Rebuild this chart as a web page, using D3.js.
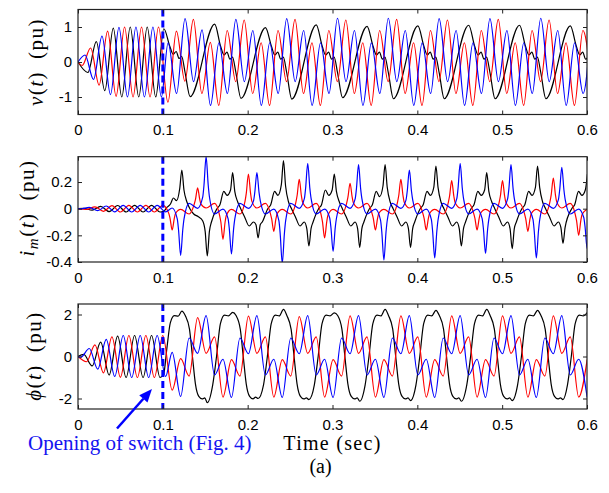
<!DOCTYPE html>
<html><head><meta charset="utf-8">
<script src="https://cdn.jsdelivr.net/npm/d3@7"></script>
<style>body{margin:0;background:#fff}</style>
</head><body>
<svg id="chart" width="609" height="493"></svg>
<script>
// ---------- axis ticks ----------
const timeTicks = [0, 0.1, 0.2, 0.3, 0.4, 0.5, 0.6];
const vTicks = [-1, 0, 1];
const iTicks = [-0.4, -0.2, 0, 0.2];
const phiTicks = [-2, 0, 2];
const switchTime = 0.1;

// ---------- v(t): extrema [time s, value pu] ----------
const vRed = [
[0,0],[0.0049,-0.1],[0.0149,0.4],[0.0249,-0.66],[0.0349,0.88],[0.0449,-0.98],[0.0549,1],[0.0649,-1],[0.0749,1],[0.0849,-1],[0.0949,1],
[0.106,-1.15],[0.116,0.88],[0.126,-0.55],[0.136,1.22],[0.146,-0.9],[0.156,0.56],
[0.1659,-1.24],[0.1759,0.9],[0.1859,-0.56],[0.1959,1.2],[0.2059,-0.9],[0.2159,0.55],
[0.2258,-1.24],[0.2358,0.9],[0.2458,-0.56],[0.2558,1.22],[0.2658,-0.9],[0.2758,0.55],
[0.2857,-1.24],[0.2957,0.9],[0.3057,-0.56],[0.3157,1.2],[0.3257,-0.9],[0.3357,0.55],
[0.3456,-1.24],[0.3556,0.9],[0.3656,-0.56],[0.3756,1.22],[0.3856,-0.9],[0.3956,0.55],
[0.4055,-1.24],[0.4155,0.9],[0.4255,-0.56],[0.4355,1.2],[0.4455,-0.9],[0.4555,0.55],
[0.4654,-1.24],[0.4754,0.9],[0.4854,-0.56],[0.4954,1.22],[0.5054,-0.9],[0.5154,0.55],
[0.5253,-1.24],[0.5353,0.9],[0.5453,-0.56],[0.5553,1.2],[0.5653,-0.9],[0.5753,0.55],
[0.5852,-1.24],[0.5952,0.9],[0.6052,-0.56]
];
const vBlue = [
[0,0],[0.0083,0.2],[0.0183,-0.5],[0.0283,0.74],[0.0383,-0.93],[0.0483,0.99],[0.0583,-1],[0.0683,1],[0.0783,-1],[0.0883,1],[0.0983,-1],
[0.1062,0.55],[0.1162,-0.9],[0.1262,1.24],[0.1362,-0.56],[0.1462,0.92],[0.1562,-1.24],
[0.1661,0.55],[0.1761,-0.9],[0.1861,1.22],[0.1961,-0.56],[0.2061,0.9],[0.2161,-1.24],
[0.226,0.55],[0.236,-0.9],[0.246,1.24],[0.256,-0.56],[0.266,0.9],[0.276,-1.24],
[0.2859,0.55],[0.2959,-0.9],[0.3059,1.25],[0.3159,-0.56],[0.3259,0.9],[0.3359,-1.24],
[0.3458,0.55],[0.3558,-0.9],[0.3658,1.25],[0.3758,-0.56],[0.3858,0.9],[0.3958,-1.24],
[0.4057,0.55],[0.4157,-0.9],[0.4257,1.24],[0.4357,-0.56],[0.4457,0.9],[0.4557,-1.24],
[0.4656,0.55],[0.4756,-0.9],[0.4856,1.24],[0.4956,-0.56],[0.5056,0.9],[0.5156,-1.24],
[0.5255,0.55],[0.5355,-0.9],[0.5455,1.25],[0.5555,-0.56],[0.5655,0.9],[0.5755,-1.24],
[0.5854,0.55],[0.5954,-0.9],[0.6054,1.24]
];
const vBlack = [
[0,0],[0.0116,-0.3],[0.0216,0.58],[0.0316,-0.82],[0.0416,0.97],[0.0516,-1],[0.0616,1],[0.0716,-1],[0.0816,1],[0.0916,-1],
[0.1012,0.95],[0.1082,0.45],[0.1122,0.22],[0.1157,0.3],[0.1192,0.1],[0.1222,0.16],[0.1262,-0.3],[0.1322,-0.99],
[0.1611,1.08],[0.1681,0.45],[0.1721,0.2],[0.1756,0.28],[0.1791,0.08],[0.1821,0.14],[0.1861,-0.3],[0.1921,-1.04],
[0.221,0.98],[0.228,0.45],[0.232,0.2],[0.2355,0.28],[0.239,0.08],[0.242,0.14],[0.246,-0.3],[0.252,-1.06],
[0.2809,1.06],[0.2879,0.45],[0.2919,0.2],[0.2954,0.28],[0.2989,0.08],[0.3019,0.14],[0.3059,-0.3],[0.3119,-1.02],
[0.3408,1.02],[0.3478,0.45],[0.3518,0.2],[0.3553,0.28],[0.3588,0.08],[0.3618,0.14],[0.3658,-0.3],[0.3718,-1.05],
[0.4007,1.03],[0.4077,0.45],[0.4117,0.2],[0.4152,0.28],[0.4187,0.08],[0.4217,0.14],[0.4257,-0.3],[0.4317,-1.05],
[0.4606,1.05],[0.4676,0.45],[0.4716,0.2],[0.4751,0.28],[0.4786,0.08],[0.4816,0.14],[0.4856,-0.3],[0.4916,-1.05],
[0.5205,1.05],[0.5275,0.45],[0.5315,0.2],[0.535,0.28],[0.5385,0.08],[0.5415,0.14],[0.5455,-0.3],[0.5515,-1.05],
[0.5804,1.03],[0.5874,0.45],[0.5914,0.2],[0.5949,0.28],[0.5984,0.08],[0.6014,0.14]
];

// ---------- i_m(t): extrema and spike flanks [time s, value pu] ----------
const iRed = [
[0,0],[0.01,-0.006],[0.02,0.014],[0.03,-0.02],[0.04,0.023],[0.05,-0.025],[0.06,0.025],[0.07,-0.025],[0.08,0.025],[0.09,-0.025],[0.1,0.025],
[0.107,-0.035],[0.1085,-0.072],[0.111,-0.16],[0.1135,-0.072],[0.115,-0.035],[0.121,-0.005],[0.131,-0.04],[0.137,0.034],[0.1385,0.07],[0.141,0.156],[0.1435,0.07],[0.145,0.034],[0.151,0.005],[0.161,0.04],
[0.1669,-0.05],[0.1684,-0.1],[0.1709,-0.23],[0.1734,-0.1],[0.1749,-0.05],[0.1809,-0.005],[0.1909,-0.04],[0.1969,0.057],[0.1984,0.117],[0.2009,0.26],[0.2034,0.117],[0.2049,0.057],[0.2109,0.005],[0.2209,0.04],
[0.2268,-0.037],[0.2283,-0.077],[0.2308,-0.17],[0.2333,-0.077],[0.2348,-0.037],[0.2408,-0.005],[0.2508,-0.04],[0.2568,0.048],[0.2583,0.099],[0.2608,0.22],[0.2633,0.099],[0.2648,0.048],[0.2708,0.005],[0.2808,0.04],
[0.2867,-0.048],[0.2882,-0.099],[0.2907,-0.22],[0.2932,-0.099],[0.2947,-0.048],[0.3007,-0.005],[0.3107,-0.04],[0.3167,0.042],[0.3182,0.086],[0.3207,0.19],[0.3232,0.086],[0.3247,0.042],[0.3307,0.005],[0.3407,0.04],
[0.3466,-0.035],[0.3481,-0.072],[0.3506,-0.16],[0.3531,-0.072],[0.3546,-0.035],[0.3606,-0.005],[0.3706,-0.04],[0.3766,0.048],[0.3781,0.099],[0.3806,0.22],[0.3831,0.099],[0.3846,0.048],[0.3906,0.005],[0.4006,0.04],
[0.4065,-0.035],[0.408,-0.072],[0.4105,-0.16],[0.413,-0.072],[0.4145,-0.035],[0.4205,-0.005],[0.4305,-0.04],[0.4365,0.046],[0.438,0.095],[0.4405,0.21],[0.443,0.095],[0.4445,0.046],[0.4505,0.005],[0.4605,0.04],
[0.4664,-0.035],[0.4679,-0.072],[0.4704,-0.16],[0.4729,-0.072],[0.4744,-0.035],[0.4804,-0.005],[0.4904,-0.04],[0.4964,0.046],[0.4979,0.095],[0.5004,0.21],[0.5029,0.095],[0.5044,0.046],[0.5104,0.005],[0.5204,0.04],
[0.5263,-0.037],[0.5278,-0.077],[0.5303,-0.17],[0.5328,-0.077],[0.5343,-0.037],[0.5403,-0.005],[0.5503,-0.04],[0.5563,0.051],[0.5578,0.104],[0.5603,0.23],[0.5628,0.104],[0.5643,0.051],[0.5703,0.005],[0.5803,0.04],
[0.5862,-0.044],[0.5877,-0.09],[0.5902,-0.2],[0.5927,-0.09],[0.5942,-0.044],[0.6002,-0.005]
];
const iBlue = [
[0,0],[0.0033,-0.001],[0.0133,0.01],[0.0233,-0.015],[0.0333,0.02],[0.0433,-0.024],[0.0533,0.025],[0.0633,-0.025],[0.0733,0.025],[0.0833,-0.025],[0.0933,0.025],[0.1033,-0.024],
[0.111,0.005],[0.117,-0.077],[0.1185,-0.158],[0.121,-0.35],[0.1235,-0.158],[0.125,-0.077],[0.131,0.04],[0.141,0.003],[0.147,0.086],[0.1485,0.176],[0.151,0.39],[0.1535,0.176],[0.155,0.086],[0.161,-0.04],
[0.1709,-0.003],[0.1769,-0.075],[0.1784,-0.153],[0.1809,-0.34],[0.1834,-0.153],[0.1849,-0.075],[0.1909,0.04],[0.2009,0.003],[0.2069,0.059],[0.2084,0.122],[0.2109,0.27],[0.2134,0.122],[0.2149,0.059],[0.2209,-0.04],
[0.2308,-0.003],[0.2368,-0.09],[0.2383,-0.185],[0.2408,-0.41],[0.2433,-0.185],[0.2448,-0.09],[0.2508,0.04],[0.2608,0.003],[0.2668,0.075],[0.2683,0.153],[0.2708,0.34],[0.2733,0.153],[0.2748,0.075],[0.2808,-0.04],
[0.2907,-0.003],[0.2967,-0.07],[0.2982,-0.144],[0.3007,-0.32],[0.3032,-0.144],[0.3047,-0.07],[0.3107,0.04],[0.3207,0.003],[0.3267,0.073],[0.3282,0.149],[0.3307,0.33],[0.3332,0.149],[0.3347,0.073],[0.3407,-0.04],
[0.3506,-0.003],[0.3566,-0.085],[0.3581,-0.173],[0.3606,-0.385],[0.3631,-0.173],[0.3646,-0.085],[0.3706,0.04],[0.3806,0.003],[0.3866,0.064],[0.3881,0.131],[0.3906,0.29],[0.3931,0.131],[0.3946,0.064],[0.4006,-0.04],
[0.4105,-0.003],[0.4165,-0.081],[0.418,-0.167],[0.4205,-0.37],[0.423,-0.167],[0.4245,-0.081],[0.4305,0.04],[0.4405,0.003],[0.4465,0.075],[0.448,0.153],[0.4505,0.34],[0.453,0.153],[0.4545,0.075],[0.4605,-0.04],
[0.4704,-0.003],[0.4764,-0.074],[0.4779,-0.151],[0.4804,-0.335],[0.4829,-0.151],[0.4844,-0.074],[0.4904,0.04],[0.5004,0.003],[0.5064,0.073],[0.5079,0.149],[0.5104,0.33],[0.5129,0.149],[0.5144,0.073],[0.5204,-0.04],
[0.5303,-0.003],[0.5363,-0.081],[0.5378,-0.167],[0.5403,-0.37],[0.5428,-0.167],[0.5443,-0.081],[0.5503,0.04],[0.5603,0.003],[0.5663,0.068],[0.5678,0.14],[0.5703,0.31],[0.5728,0.14],[0.5743,0.068],[0.5803,-0.04],
[0.5902,-0.003],[0.5962,-0.066],[0.5977,-0.135],[0.6002,-0.3],[0.6027,-0.135]
];
const iBlack = [
[0,0],[0.0067,0.0025],[0.0167,-0.011],[0.0267,0.017],[0.0367,-0.022],[0.0467,0.024],[0.0567,-0.025],[0.0667,0.025],[0.0767,-0.025],[0.0867,0.025],[0.0967,-0.025],
[0.1009,-0.02],[0.1048,0.01],[0.109,0.035],[0.1125,0.08],[0.1162,0.06],[0.1199,0.15],[0.1224,0.29],[0.1249,0.14],[0.1284,0.05],[0.1319,0],[0.1364,-0.04],[0.1419,-0.06],[0.1469,-0.09],[0.1499,-0.17],[0.1524,-0.355],[0.1549,-0.17],
[0.1573,-0.1],[0.1638,0],[0.1673,0.03],[0.1718,0.13],[0.1758,0.1],[0.1798,0.14],[0.1823,0.27],[0.1848,0.13],[0.1883,0.05],[0.1918,0],[0.1963,-0.06],[0.2018,-0.13],[0.2068,-0.1],[0.2098,-0.12],[0.2123,-0.22],[0.2148,-0.12],
[0.2172,-0.1],[0.2237,0],[0.2272,0.03],[0.2317,0.13],[0.2357,0.1],[0.2397,0.18],[0.2422,0.36],[0.2447,0.17],[0.2482,0.05],[0.2517,0],[0.2562,-0.06],[0.2617,-0.13],[0.2667,-0.1],[0.2697,-0.15],[0.2722,-0.28],[0.2747,-0.15],
[0.2771,-0.1],[0.2836,0],[0.2871,0.03],[0.2916,0.14],[0.2956,0.1],[0.2996,0.14],[0.3021,0.26],[0.3046,0.13],[0.3081,0.05],[0.3116,0],[0.3161,-0.06],[0.3216,-0.13],[0.3266,-0.1],[0.3296,-0.15],[0.3321,-0.29],[0.3346,-0.15],
[0.337,-0.1],[0.3435,0],[0.347,0.03],[0.3515,0.13],[0.3555,0.09],[0.3595,0.17],[0.362,0.33],[0.3645,0.16],[0.368,0.05],[0.3715,0],[0.376,-0.06],[0.3815,-0.13],[0.3865,-0.1],[0.3895,-0.15],[0.392,-0.29],[0.3945,-0.15],
[0.3969,-0.1],[0.4034,0],[0.4069,0.03],[0.4114,0.13],[0.4154,0.1],[0.4194,0.16],[0.4219,0.32],[0.4244,0.16],[0.4279,0.05],[0.4314,0],[0.4359,-0.06],[0.4414,-0.13],[0.4464,-0.1],[0.4494,-0.15],[0.4519,-0.28],[0.4544,-0.15],
[0.4568,-0.1],[0.4633,0],[0.4668,0.03],[0.4713,0.13],[0.4753,0.1],[0.4793,0.14],[0.4818,0.27],[0.4843,0.13],[0.4878,0.05],[0.4913,0],[0.4958,-0.06],[0.5013,-0.13],[0.5063,-0.1],[0.5093,-0.15],[0.5118,-0.3],[0.5143,-0.15],
[0.5167,-0.1],[0.5232,0],[0.5267,0.03],[0.5312,0.13],[0.5352,0.1],[0.5392,0.16],[0.5417,0.32],[0.5442,0.16],[0.5477,0.05],[0.5512,0],[0.5557,-0.06],[0.5612,-0.13],[0.5662,-0.1],[0.5692,-0.14],[0.5717,-0.26],[0.5742,-0.14],
[0.582,0],[0.5855,0.03],[0.59,0.13],[0.594,0.1],[0.598,0.14],[0.6005,0.26]
];

// ---------- phi(t): flux linkage extrema [time s, value pu] ----------
const phiRed = [
[0,0],[0.01,-0.25],[0.02,0.55],[0.03,-0.78],[0.04,0.93],[0.05,-0.99],[0.06,1],[0.07,-1],[0.08,1],[0.09,-1],[0.1,1],
[0.111,-1.6],[0.121,-0.1],[0.131,-0.93],[0.141,1.85],[0.151,0.15],[0.161,0.93],
[0.1709,-1.93],[0.1809,-0.15],[0.1909,-0.93],[0.2009,1.92],[0.2109,0.15],[0.2209,0.93],
[0.2308,-1.93],[0.2408,-0.15],[0.2508,-0.93],[0.2608,1.9],[0.2708,0.15],[0.2808,0.93],
[0.2907,-1.93],[0.3007,-0.15],[0.3107,-0.93],[0.3207,1.93],[0.3307,0.15],[0.3407,0.93],
[0.3506,-1.93],[0.3606,-0.15],[0.3706,-0.93],[0.3806,1.93],[0.3906,0.15],[0.4006,0.93],
[0.4105,-1.93],[0.4205,-0.15],[0.4305,-0.93],[0.4405,1.93],[0.4505,0.15],[0.4605,0.93],
[0.4704,-1.93],[0.4804,-0.15],[0.4904,-0.93],[0.5004,1.93],[0.5104,0.15],[0.5204,0.93],
[0.5303,-1.93],[0.5403,-0.15],[0.5503,-0.93],[0.5603,1.93],[0.5703,0.15],[0.5803,0.93],
[0.5902,-1.93],[0.6002,-0.15]
];
const phiBlue = [
[0,0],[0.0033,-0.03],[0.0133,0.38],[0.0233,-0.6],[0.0333,0.82],[0.0433,-0.95],[0.0533,1],[0.0633,-1],[0.0733,1],[0.0833,-1],[0.0933,1],[0.1033,-0.95],
[0.111,0.2],[0.121,-1.9],[0.131,0.88],[0.141,0.15],[0.151,1.95],[0.161,-0.88],
[0.1709,-0.13],[0.1809,-1.95],[0.1909,0.88],[0.2009,0.13],[0.2109,1.95],[0.2209,-0.88],
[0.2308,-0.13],[0.2408,-1.95],[0.2508,0.88],[0.2608,0.13],[0.2708,1.95],[0.2808,-0.88],
[0.2907,-0.13],[0.3007,-1.95],[0.3107,0.88],[0.3207,0.13],[0.3307,1.95],[0.3407,-0.88],
[0.3506,-0.13],[0.3606,-1.95],[0.3706,0.88],[0.3806,0.13],[0.3906,1.95],[0.4006,-0.88],
[0.4105,-0.13],[0.4205,-1.95],[0.4305,0.88],[0.4405,0.13],[0.4505,1.95],[0.4605,-0.88],
[0.4704,-0.13],[0.4804,-1.95],[0.4904,0.88],[0.5004,0.13],[0.5104,1.95],[0.5204,-0.88],
[0.5303,-0.13],[0.5403,-1.95],[0.5503,0.88],[0.5603,0.13],[0.5703,1.95],[0.5803,-0.88],
[0.5902,-0.13],[0.6002,-1.95]
];
const phiBlack = [
[0,0],[0.0067,0.1],[0.0167,-0.45],[0.0267,0.68],[0.0367,-0.88],[0.0467,0.97],[0.0567,-1],[0.0667,1],[0.0767,-1],[0.0867,1],[0.0967,-1],
[0.1009,-0.85],[0.1048,0.4],[0.1088,1.6],[0.1135,1.95],[0.118,1.92],[0.1224,2.16],[0.1264,1.95],[0.1314,1.3],[0.1349,0],[0.1384,-1.3],[0.1424,-1.9],[0.1464,-2.02],[0.1494,-1.97],[0.1524,-2.2],
[0.1588,-1.35],[0.1633,0],[0.1678,1.55],[0.1728,1.97],[0.1773,1.93],[0.1823,2.1],[0.1863,1.95],[0.1913,1.3],[0.1948,0],[0.1983,-1.3],[0.2023,-1.9],[0.2063,-2.02],[0.2093,-1.93],[0.2123,-2.0],
[0.2187,-1.35],[0.2232,0],[0.2277,1.55],[0.2327,1.97],[0.2372,1.93],[0.2422,2.24],[0.2462,1.95],[0.2512,1.3],[0.2547,0],[0.2582,-1.3],[0.2622,-1.9],[0.2662,-2.02],[0.2692,-1.97],[0.2722,-2.05],
[0.2786,-1.35],[0.2831,0],[0.2876,1.55],[0.2926,1.97],[0.2971,1.93],[0.3021,2.08],[0.3061,1.95],[0.3111,1.3],[0.3146,0],[0.3181,-1.3],[0.3221,-1.9],[0.3261,-2.02],[0.3291,-1.97],[0.3321,-2.13],
[0.3385,-1.35],[0.343,0],[0.3475,1.55],[0.3525,1.97],[0.357,1.93],[0.362,2.24],[0.366,1.95],[0.371,1.3],[0.3745,0],[0.378,-1.3],[0.382,-1.9],[0.386,-2.02],[0.389,-1.97],[0.392,-2.1],
[0.3984,-1.35],[0.4029,0],[0.4074,1.55],[0.4124,1.97],[0.4169,1.93],[0.4219,2.2],[0.4259,1.95],[0.4309,1.3],[0.4344,0],[0.4379,-1.3],[0.4419,-1.9],[0.4459,-2.02],[0.4489,-1.97],[0.4519,-2.13],
[0.4583,-1.35],[0.4628,0],[0.4673,1.55],[0.4723,1.97],[0.4768,1.93],[0.4818,2.24],[0.4858,1.95],[0.4908,1.3],[0.4943,0],[0.4978,-1.3],[0.5018,-1.9],[0.5058,-2.02],[0.5088,-1.97],[0.5118,-2.1],
[0.5182,-1.35],[0.5227,0],[0.5272,1.55],[0.5322,1.97],[0.5367,1.93],[0.5417,2.2],[0.5457,1.95],[0.5507,1.3],[0.5542,0],[0.5577,-1.3],[0.5617,-1.9],[0.5657,-2.02],[0.5687,-1.97],[0.5717,-2.05],
[0.577,-1.35],[0.5815,0],[0.586,1.55],[0.591,1.97],[0.5955,1.93],[0.6005,2.1]
];

// annotation arrow, in (time, flux) units of the lower panel
const arrowTail = [0.046, -3.43];
const arrowTip = [0.0872, -1.55];

// ---------- layout ----------
const svg = d3.select("#chart");
const X0 = 78, X1 = 587;
const x = d3.scaleLinear().domain([0, 0.6]).range([X0, X1]);
const colors = {black: "#000000", red: "#ff0000", blue: "#0000ff"};

const panels = [
  {id: "v",   y0: 9.5,   y1: 114.5, domain: [-1.5, 1.5],  ticks: vTicks,
   series: [["black", vBlack], ["red", vRed], ["blue", vBlue]]},
  {id: "i",   y0: 156.7, y1: 262,   domain: [-0.4, 0.39], ticks: iTicks,
   series: [["black", iBlack], ["red", iRed], ["blue", iBlue]]},
  {id: "phi", y0: 304,   y1: 409,   domain: [-2.5, 2.5],  ticks: phiTicks,
   series: [["black", phiBlack], ["red", phiRed], ["blue", phiBlue]]}
];

const tickFont = "'Liberation Sans', Arial, sans-serif";
const serif = "'Liberation Serif', 'Times New Roman', 'DejaVu Serif', serif";

function styleAxis(g) {
  g.select(".domain").remove();
  g.selectAll(".tick line").attr("stroke", "#222").attr("stroke-width", 1);
  g.selectAll("text").attr("font-family", tickFont).attr("font-size", 15).attr("fill", "#000");
}

panels.forEach(p => {
  const y = d3.scaleLinear().domain(p.domain).range([p.y1, p.y0]);
  p.y = y;
  const g = svg.append("g");

  g.append("clipPath").attr("id", "clip-" + p.id)
    .append("rect").attr("x", X0).attr("y", p.y0).attr("width", X1 - X0).attr("height", p.y1 - p.y0);

  const line = d3.line().x(d => x(d[0])).y(d => y(d[1])).curve(d3.curveMonotoneX);
  const plot = g.append("g").attr("clip-path", `url(#clip-${p.id})`);
  p.series.forEach(([c, data]) => {
    plot.append("path").datum(data)
      .attr("d", line).attr("fill", "none")
      .attr("stroke", colors[c]).attr("stroke-width", 1.2)
      .attr("stroke-linejoin", "round");
  });

  // switching instant
  g.append("line")
    .attr("x1", x(switchTime)).attr("x2", x(switchTime))
    .attr("y1", p.y0).attr("y2", p.y1)
    .attr("stroke", "#0000ff").attr("stroke-width", 3)
    .attr("stroke-dasharray", "7,4");

  // ticks on all four sides, pointing inward
  g.append("g").attr("transform", `translate(0,${p.y1})`)
    .call(d3.axisBottom(x).tickValues(timeTicks).tickSizeInner(-4).tickSizeOuter(0).tickPadding(10)
      .tickFormat(d => d === 0 ? "0" : d3.format(".1f")(d)))
    .call(styleAxis);
  g.append("g").attr("transform", `translate(0,${p.y0})`)
    .call(d3.axisTop(x).tickValues(timeTicks).tickSizeInner(-4).tickSizeOuter(0).tickFormat(""))
    .call(styleAxis);
  g.append("g").attr("transform", `translate(${X0},0)`)
    .call(d3.axisLeft(y).tickValues(p.ticks).tickSizeInner(-4).tickSizeOuter(0).tickPadding(6)
      .tickFormat(d => String(d)))
    .call(styleAxis);
  g.append("g").attr("transform", `translate(${X1},0)`)
    .call(d3.axisRight(y).tickValues(p.ticks).tickSizeInner(-4).tickSizeOuter(0).tickFormat(""))
    .call(styleAxis);

  g.append("rect").attr("x", X0).attr("y", p.y0).attr("width", X1 - X0).attr("height", p.y1 - p.y0)
    .attr("fill", "none").attr("stroke", "#222").attr("stroke-width", 1.2);
});

// ---------- y-axis labels ----------
function yLabel(cx, cy, build) {
  const t = svg.append("text")
    .attr("transform", `translate(${cx},${cy}) rotate(-90)`)
    .attr("text-anchor", "middle")
    .attr("font-family", serif).attr("font-size", 21).attr("letter-spacing", 1.5).attr("fill", "#000");
  build(t);
}
yLabel(43, 62, t => {
  t.append("tspan").attr("font-style", "italic").text("v");
  t.append("tspan").text("(");
  t.append("tspan").attr("font-style", "italic").text("t");
  t.append("tspan").text(")\u2002(pu)");
});
yLabel(34, 208, t => {
  t.append("tspan").attr("font-style", "italic").text("i");
  t.append("tspan").attr("font-style", "italic").attr("font-size", 15).attr("dy", 4).text("m");
  t.append("tspan").attr("dy", -4).text("(");
  t.append("tspan").attr("font-style", "italic").text("t");
  t.append("tspan").text(")\u2002(pu)");
});
yLabel(41, 356, t => {
  t.append("tspan").attr("font-style", "italic").text("\u03D5");
  t.append("tspan").text("(");
  t.append("tspan").attr("font-style", "italic").text("t");
  t.append("tspan").text(")\u2002(pu)");
});

// ---------- x label and caption ----------
const p3 = panels[2];
svg.append("text").attr("x", x(0.3)).attr("y", 449.5)
  .attr("text-anchor", "middle").attr("font-family", serif).attr("font-size", 20)
  .attr("letter-spacing", 1.3)
  .text("Time (sec)");
svg.append("text").attr("x", x(0.3) - 12).attr("y", 472.5)
  .attr("text-anchor", "middle").attr("font-family", serif).attr("font-size", 20)
  .text("(a)");

// ---------- switch annotation ----------
const tail = [x(arrowTail[0]), p3.y(arrowTail[1])];
const tip = [x(arrowTip[0]), p3.y(arrowTip[1])];
const dx = tip[0] - tail[0], dy = tip[1] - tail[1];
const len = Math.hypot(dx, dy), ux = dx / len, uy = dy / len;
const headL = 13, headW = 5.5;
const base = [tip[0] - headL * ux, tip[1] - headL * uy];
svg.append("line")
  .attr("x1", tail[0]).attr("y1", tail[1]).attr("x2", base[0]).attr("y2", base[1])
  .attr("stroke", "#0000ff").attr("stroke-width", 2.5);
svg.append("polygon")
  .attr("points", [tip, [base[0] - headW * uy, base[1] + headW * ux], [base[0] + headW * uy, base[1] - headW * ux]]
    .map(d => d.join(",")).join(" "))
  .attr("fill", "#0000ff");
svg.append("text").attr("x", 28).attr("y", 450)
  .attr("font-family", serif).attr("font-size", 21).attr("fill", "#1414f0")
  .text("Opening of switch (Fig. 4)");
</script>
</body></html>
